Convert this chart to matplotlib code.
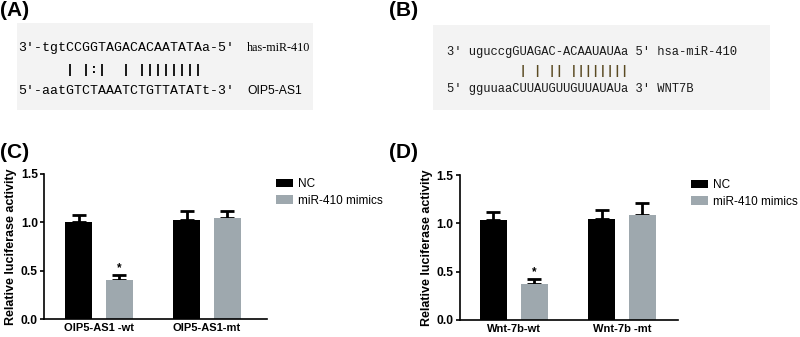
import matplotlib
matplotlib.use("Agg")
import matplotlib.pyplot as plt
from matplotlib.patches import Rectangle
import numpy as np

# 数据
groups_c = ["OIP5-AS1 -wt", "OIP5-AS1-mt"]
nc_c = [1.00, 1.025]
nc_c_err = [0.08, 0.095]
mimic_c = [0.405, 1.045]
mimic_c_err = [0.05, 0.075]

groups_d = ["Wnt-7b-wt", "Wnt-7b -mt"]
nc_d = [1.03, 1.05]
nc_d_err = [0.085, 0.09]
mimic_d = [0.375, 1.09]
mimic_d_err = [0.045, 0.125]

series_names = ["NC", "miR-410 mimics"]
yticks = [0.0, 0.5, 1.0, 1.5]

# 序列比对文本
seq_a_top = "3'-tgtCCGGTAGACACAATATAa-5'"
seq_a_bars = "      | |:|  | ||||||||"
seq_a_bot = "5'-aatGTCTAAATCTGTTATATt-3'"
label_a_top = "has-miR-410"
label_a_bot = "OIP5-AS1"

seq_b_top = "3' uguccgGUAGAC-ACAAUAUAa 5' hsa-miR-410"
seq_b_bars = "          | | || ||||||||"
seq_b_bot = "5' gguuaaCUUAUGUUGUUAUAUa 3' WNT7B"

W, H = 800, 337
plt.rcParams['font.family'] = ['Liberation Sans', 'DejaVu Sans']
fig = plt.figure(figsize=(W / 100, H / 100), dpi=100)


def fx(px):
    return px / W


def fy(py):
    return 1 - py / H


# 面板标签
for lab, x, y in [("(A)", 0, 11), ("(B)", 389, 11), ("(C)", 0, 153), ("(D)", 389, 153)]:
    fig.text(fx(x), fy(y), lab, fontsize=15, fontweight='bold', va='center', ha='left')

# (A) 灰色背景框
fig.add_artist(Rectangle((fx(17), fy(110)), fx(313) - fx(17), fy(23) - fy(110),
                         transform=fig.transFigure, facecolor='#f3f3f3', edgecolor='none'))
fig.text(fx(18), fy(48), seq_a_top, family='Liberation Mono', fontsize=9.5, va='center')
fig.text(fx(18), fy(70), seq_a_bars, family='Liberation Mono', fontsize=9.5, va='center',
         fontweight='bold')
fig.text(fx(18), fy(91), seq_a_bot, family='Liberation Mono', fontsize=9.5, va='center')
fig.text(fx(247), fy(48), label_a_top, family='Liberation Serif', fontsize=8.7, va='center')
fig.text(fx(247), fy(91), label_a_bot, fontsize=8.7, va='center')

# (B) 灰色背景框
fig.add_artist(Rectangle((fx(433), fy(110)), fx(770) - fx(433), fy(25) - fy(110),
                         transform=fig.transFigure, facecolor='#f3f3f3', edgecolor='none'))
fig.text(fx(447), fy(52), seq_b_top, family='Liberation Mono', fontsize=8.7, va='center', color='#1a1a1a')
fig.text(fx(447), fy(71), seq_b_bars, family='Liberation Mono', fontsize=8.7, va='center',
         color='#5a4a22', fontweight='bold')
fig.text(fx(447), fy(89), seq_b_bot, family='Liberation Mono', fontsize=8.7, va='center', color='#1a1a1a')


def bar_panel(rect, groups, nc, nc_err, mimic, mimic_err, xlim, legend_xy):
    ax = fig.add_axes(rect)
    pos = np.array([0.0, 4.0])
    ax.bar(pos, nc, width=1.0, color='black', zorder=2, label=series_names[0])
    ax.bar(pos + 1.5, mimic, width=1.0, color='#9ea8ae', zorder=2, label=series_names[1])
    ax.errorbar(pos, nc, yerr=[np.zeros(2), nc_err], fmt='none', ecolor='black',
                elinewidth=2, capsize=4.7, capthick=2, zorder=1)
    ax.errorbar(pos + 1.5, mimic, yerr=[np.zeros(2), mimic_err], fmt='none', ecolor='black',
                elinewidth=2, capsize=4.7, capthick=2, zorder=1)
    # 显著性星号
    ax.text(pos[0] + 1.5, mimic[0] + mimic_err[0] + 0.01, "*", ha='center', va='bottom',
            fontsize=8.5, fontweight='bold')
    ax.set_xlim(*xlim)
    ax.set_ylim(0, 1.5)
    ax.set_yticks(yticks)
    ax.set_yticklabels([f"{v:.1f}" for v in yticks], fontsize=8.7, fontweight='bold')
    ax.set_xticks(pos + 0.75)
    ax.set_xticklabels(groups, fontsize=8, fontweight='bold')
    ax.tick_params(axis='x', length=0, pad=3)
    ax.tick_params(axis='y', length=3, width=1.2, pad=1.5)
    for s in ['top', 'right']:
        ax.spines[s].set_visible(False)
    for s in ['left', 'bottom']:
        ax.spines[s].set_linewidth(1.2)
    ax.set_ylabel("Relative luciferase activity", fontsize=9, fontweight='bold', labelpad=3)
    ax.legend(loc='upper left', bbox_to_anchor=legend_xy, bbox_transform=fig.transFigure,
              frameon=False, fontsize=8.5, handlelength=1.45, handleheight=0.7,
              handletextpad=0.45, labelspacing=0.4, borderpad=0, borderaxespad=0)
    return ax


bar_panel([fx(44), fy(319), fx(267) - fx(44), fy(174) - fy(319)],
          groups_c, nc_c, nc_c_err, mimic_c, mimic_c_err, (-1.28, 6.98), (fx(276), fy(178)))
bar_panel([fx(460), fy(320), fx(678) - fx(460), fy(175) - fy(320)],
          groups_d, nc_d, nc_d_err, mimic_d, mimic_d_err, (-1.24, 6.83), (fx(691), fy(179)))

fig.savefig("out.png", dpi=100)
